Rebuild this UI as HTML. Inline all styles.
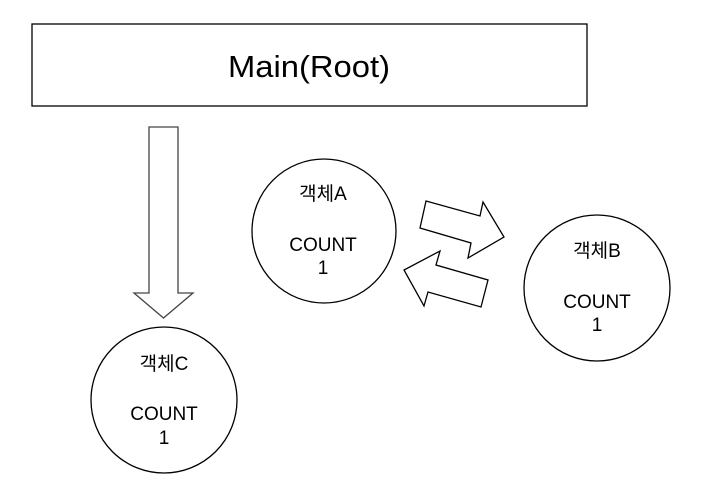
<!DOCTYPE html>
<html><head><meta charset="utf-8"><style>html,body{margin:0;padding:0;background:#fff;}svg{display:block}</style></head>
<body>
<svg width="710" height="503" viewBox="0 0 710 503" xmlns="http://www.w3.org/2000/svg" font-family="'Liberation Sans','Noto Sans CJK KR',sans-serif" fill="none" stroke="#000" stroke-width="1.3">
<rect x="32" y="24" width="555" height="82"/>
<text x="309" y="77" font-size="31" fill="#000" stroke="none" text-anchor="middle" textLength="162" lengthAdjust="spacingAndGlyphs">Main(Root)</text>
<polygon points="149,127 178,127 178,293 193,293 163.5,318 134,293 149,293" stroke="#444"/>
<polygon points="426,201 480,216 483,202 504,237 468,258 471,243 420,228"/>
<polygon points="488,280 481,307 428,292 424,306 404,270 440,251 436,265"/>
<circle cx="324" cy="231" r="72"/>
<circle cx="597" cy="288" r="73"/>
<circle cx="164" cy="400" r="73"/>
<g fill="#000" stroke="none" font-size="19" text-anchor="middle">
<text x="323" y="200">객체A</text><text x="323" y="251">COUNT</text><text x="323" y="274">1</text>
<text x="597" y="257">객체B</text><text x="597" y="308">COUNT</text><text x="597" y="331">1</text>
<text x="164" y="370">객체C</text><text x="164" y="420">COUNT</text><text x="164" y="444">1</text>
</g>
</svg>
</body></html>
